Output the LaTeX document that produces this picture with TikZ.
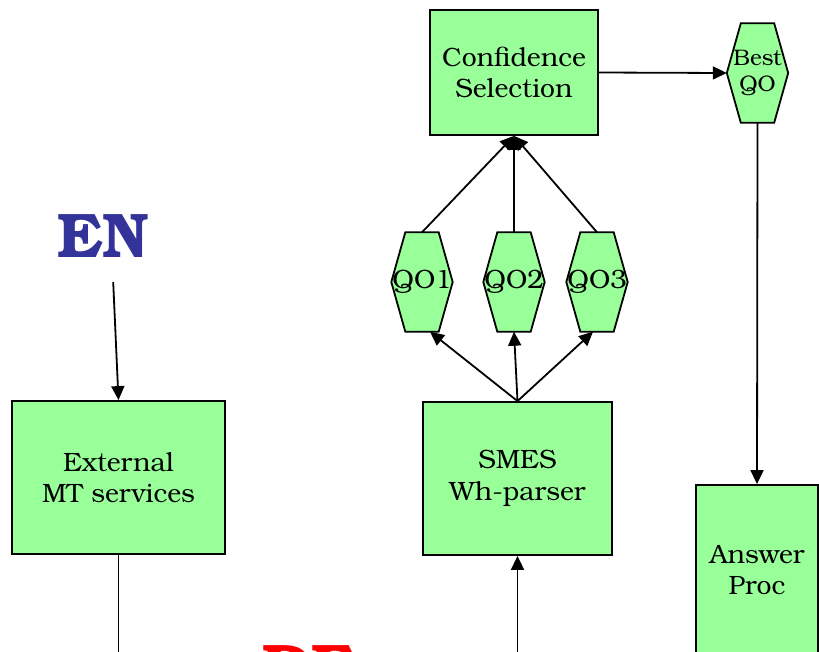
\documentclass[tikz,border=0pt]{standalone}
\usepackage{fontspec}
\setmainfont{TeX Gyre Bonum}
\usetikzlibrary{arrows.meta,backgrounds}
\definecolor{boxgreen}{HTML}{99FF99}
\definecolor{enblue}{HTML}{333399}
\definecolor{dered}{HTML}{FF0000}
\begin{document}
\begin{tikzpicture}[x=1pt,y=-1pt,
  box/.style={draw=black, line width=1.8pt, fill=boxgreen, inner sep=0pt, align=center,
    font=\fontsize{26.5}{31.5}\selectfont},
  hexa/.style={inner sep=0pt, minimum width=61pt, minimum height=99pt, align=center,
    font=\fontsize{26.5}{31}\selectfont},
  hexsmall/.style={hexa, font=\fontsize{22.5}{26}\selectfont},
  big/.style={inner sep=0pt, font=\fontsize{63}{70}\selectfont\bfseries},
  arr/.style={line width=1.8pt, -{Triangle[length=14pt,width=13pt]}},
  ln/.style={line width=1.8pt}
]
\useasboundingbox (0,0) rectangle (819,651);

\node[box, minimum width=168pt, minimum height=125pt] (conf) at (514,72.5) {Confidence\\Selection};
\node[box, minimum width=213pt, minimum height=153pt] (ext) at (118.5,477.5) {External\\MT services};
\node[box, minimum width=189pt, minimum height=153pt] (smes) at (517.5,478.5) {SMES\\Wh-parser};
\node[box, minimum width=122pt, minimum height=170pt] (ans) at (757,570) {Answer\\Proc};

\node[hexsmall] (best) at (757.5,73) {Best\\QO};
\node[hexa] (qo1) at (422,282) {QO1};
\node[hexa] (qo2) at (514,282) {QO2};
\node[hexa] (qo3) at (597,282) {QO3};

\begin{scope}[on background layer]
\foreach \n in {best,qo1,qo2,qo3}{
  \filldraw[fill=boxgreen, draw=black, line width=1.8pt, line join=miter]
    (\n.west) -- ([xshift=14pt]\n.north west) -- ([xshift=-14pt]\n.north east)
    -- (\n.east) -- ([xshift=-14pt]\n.south east) -- ([xshift=14pt]\n.south west) -- cycle;
}
\end{scope}

\node[big, text=enblue, anchor=base west] (en) at (57,257) {EN};
\node[big, text=dered, anchor=base west] (de) at (262,688) {DE};

\coordinate (extbot) at (118.5,660);
\coordinate (smesbot) at (517.5,660);

\draw[arr] ([shift={(10,25)}]en.base) -- (ext.north);
\draw[ln] (ext.south) -- (extbot);
\draw[arr] (smesbot) -- (smes.south);
\draw[arr] (smes.north) -- ([xshift=8pt]qo1.south);
\draw[arr] (smes.north) -- (qo2.south);
\draw[arr] (smes.north) -- ([xshift=-4pt]qo3.south);
\draw[arr] (qo1.north) -- (conf.south);
\draw[arr] (qo2.north) -- (conf.south);
\draw[arr] (qo3.north) -- (conf.south);
\draw[arr] (conf.east) -- (best.west);
\draw[arr] (best.south) -- (ans.north);
\end{tikzpicture}
\end{document}
